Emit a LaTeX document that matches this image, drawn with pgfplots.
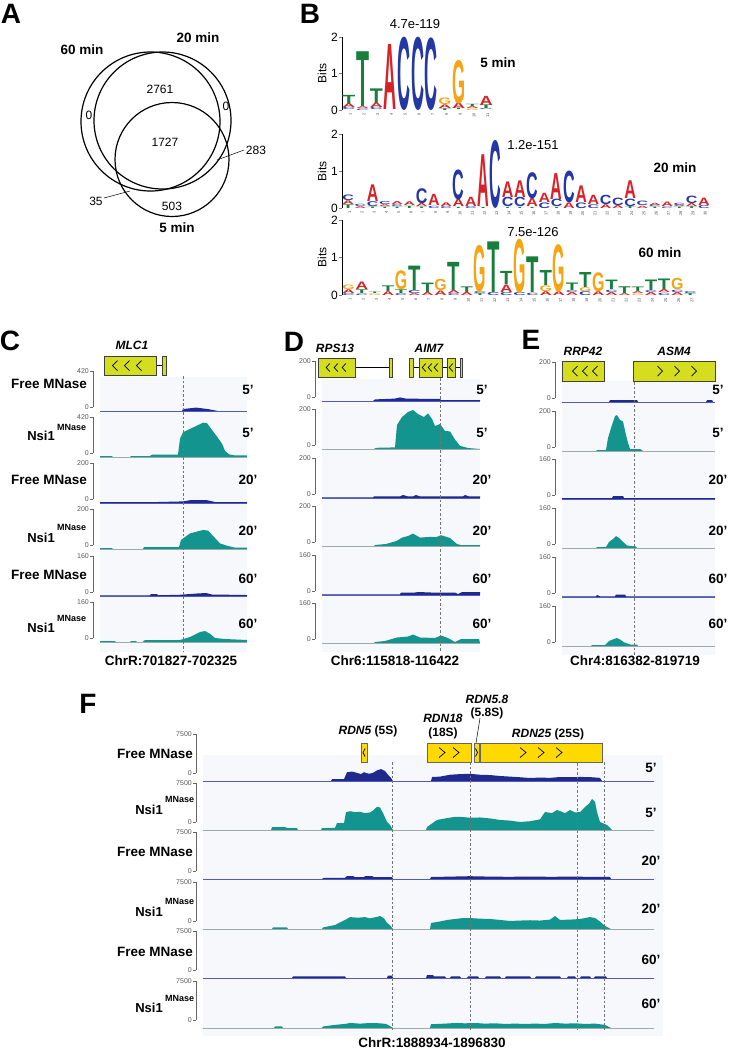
\documentclass[border=0pt]{standalone}
\usepackage{fontspec}
\setmainfont{Liberation Sans}
\usepackage{graphicx}
\usepackage{pgfplots}
\pgfplotsset{compat=1.18}

\definecolor{freeblue}{RGB}{32,42,140}
\definecolor{freeline}{RGB}{90,100,200}
\definecolor{nsiteal}{RGB}{20,148,142}
\definecolor{nsiline}{RGB}{175,175,175}
\definecolor{bgtrack}{RGB}{246,248,251}
\definecolor{geneC}{RGB}{212,222,30}
\definecolor{geneF}{RGB}{255,218,0}
\definecolor{logoA}{RGB}{215,35,40}
\definecolor{logoC}{RGB}{35,55,165}
\definecolor{logoG}{RGB}{245,165,20}
\definecolor{logoT}{RGB}{25,125,60}

\newcommand{\fs}[1]{\fontsize{#1}{#1}\selectfont}
\newlength{\bitpx}
\def\lwid{13pt}
\newcommand{\LL}[5]{\node[inner sep=0pt,outer sep=0pt,anchor=south,text=#5] at (axis cs:#1,#2) {\raisebox{0pt}[#3\bitpx][0pt]{\resizebox{\lwid}{#3\bitpx}{\bfseries #4}}};}
\newcommand{\LA}[3]{\LL{#1}{#2}{#3}{A}{logoA}}
\newcommand{\LC}[3]{\LL{#1}{#2}{#3}{C}{logoC}}
\newcommand{\LG}[3]{\LL{#1}{#2}{#3}{G}{logoG}}
\newcommand{\LT}[3]{\LL{#1}{#2}{#3}{T}{logoT}}
\newcommand{\chL}[4]{\draw[line width=0.7pt] (axis cs:#1,#2) ++(#3,#4) -- ++(-2*#3,-#4) -- ++(2*#3,-#4);}
\newcommand{\chR}[4]{\draw[line width=0.7pt] (axis cs:#1,#2) ++(-#3,#4) -- ++(2*#3,-#4) -- ++(-2*#3,-#4);}

\tikzset{
 gC/.style={fill=geneC, draw=black!75, line width=0.8pt},
 gF/.style={fill=geneF, draw=black!60, line width=0.8pt},
 dl/.style={draw=black!55, line width=0.7pt, dash pattern=on 2.5pt off 2pt},
}
\pgfplotsset{
 trk/.style={scale only axis, anchor=south west, height=40pt, ymin=0, clip=false,
   axis x line=none, axis y line*=left, axis y line shift=7pt,
   y axis line style={draw=black!60, line width=0.6pt, shorten <=4pt},
   ytick style={draw=black!60, line width=0.6pt},
   tick align=outside, major tick length=3pt,
   yticklabel style={font=\fs{7}, text=black!65, inner sep=1pt},
   xtick=\empty},
 pC/.style={xmin=100, xmax=247, width=147pt, at={(100pt,-#1pt)}},
 pD/.style={xmin=322, xmax=480, width=158pt, at={(322pt,-#1pt)}},
 pE/.style={xmin=562, xmax=715, width=153pt, at={(562pt,-#1pt)}},
 pF/.style={xmin=203, xmax=654, width=451pt, at={(203pt,-#1pt)}, height=47pt, y axis line style={shorten <=8pt}},
 mx/.style 2 args={ymax=#1, ytick={#2,#1}, yticklabels={0,#1}},
 free/.style={fill=freeblue, draw=none},
 nsi/.style={fill=nsiteal, draw=none},
 fbase/.style={draw=freeline, line width=1pt},
 nbase/.style={draw=nsiline, line width=0.8pt},
 logo/.style={scale only axis, anchor=south west, ymin=0, ymax=2, clip=false,
   axis y line*=left, axis x line*=bottom, x axis line style={draw=none},
   xtick style={draw=none}, ytick={0,1,2}, tick align=outside, major tick length=3pt,
   y axis line style={line width=0.6pt}, ytick style={line width=0.6pt},
   xticklabel style={rotate=90, anchor=east, font=\fs{4}, inner sep=0.3pt, yshift=-1.5pt, text=black!70},
   yticklabel style={font=\fs{12}, inner sep=1pt},
   /pgf/number format/assume math mode=true,
   ylabel={Bits}, ylabel style={font=\fs{12}}},
}

\begin{document}
\begin{tikzpicture}
\useasboundingbox (0pt,0pt) rectangle (728pt,-1049pt);
% backgrounds
\begin{scope}[x=1pt,y=-1pt]
\fill[bgtrack] (100,377) rectangle (247,652);
\fill[bgtrack] (322,379) rectangle (480,652);
\fill[bgtrack] (562,381) rectangle (715,655);
\fill[bgtrack] (203,755) rectangle (663,1036);
\end{scope}

% ===== Panel B: logos =====
\setlength{\bitpx}{36.5pt}\def\lwid{13pt}
\begin{axis}[logo, at={(342pt,-110pt)}, width=151pt, height=73pt, xmin=0.5, xmax=11.5, xtick={1,...,11}]
\LC{1}{0}{0.06}\LA{1}{0.06}{0.10}\LT{1}{0.16}{0.25}
\LC{2}{0}{0.04}\LA{2}{0.04}{0.05}\LT{2}{0.09}{1.5}
\LC{3}{0}{0.06}\LA{3}{0.06}{0.12}\LT{3}{0.18}{0.40}
\LA{4}{0}{1.78}
\LC{5}{0}{1.98}
\LC{6}{0}{1.98}
\LC{7}{0}{1.96}
\LT{8}{0}{0.05}\LA{8}{0.05}{0.10}\LG{8}{0.15}{0.18}
\LT{9}{0}{0.04}\LA{9}{0.04}{0.15}\LG{9}{0.19}{1.18}
\LG{10}{0}{0.04}\LA{10}{0.04}{0.05}\LT{10}{0.09}{0.06}
\LC{11}{0}{0.03}\LT{11}{0.03}{0.10}\LA{11}{0.13}{0.25}
\end{axis}

\setlength{\bitpx}{37pt}\def\lwid{11.6pt}
\begin{axis}[logo, at={(342pt,-208pt)}, width=368pt, height=74pt, xmin=0.5, xmax=30.5, xtick={1,...,30}]
\LT{1}{0}{0.1}\LA{1}{0.1}{0.1}\LC{1}{0.2}{0.15}
\LA{2}{0}{0.05}\LC{2}{0.05}{0.06}
\LT{3}{0}{0.04}\LC{3}{0.04}{0.13}\LA{3}{0.17}{0.45}
\LT{4}{0}{0.04}\LA{4}{0.04}{0.05}\LC{4}{0.09}{0.08}
\LT{5}{0}{0.04}\LC{5}{0.04}{0.05}\LA{5}{0.09}{0.08}
\LT{6}{0}{0.06}\LA{6}{0.06}{0.1}
\LT{7}{0}{0.04}\LA{7}{0.04}{0.08}\LC{7}{0.12}{0.4}
\LC{8}{0}{0.06}\LA{8}{0.06}{0.3}
\LC{9}{0}{0.05}\LA{9}{0.05}{0.1}
\LT{10}{0}{0.03}\LA{10}{0.03}{0.2}\LC{10}{0.23}{0.8}
\LC{11}{0}{0.05}\LA{11}{0.05}{0.25}
\LT{12}{0}{0.03}\LA{12}{0.03}{1.4}
\LC{13}{0}{1.81}
\LT{14}{0}{0.03}\LC{14}{0.03}{0.25}\LA{14}{0.28}{0.42}
\LT{15}{0}{0.03}\LC{15}{0.03}{0.25}\LA{15}{0.28}{0.45}
\LT{16}{0}{0.03}\LA{16}{0.03}{0.22}\LC{16}{0.25}{0.7}
\LC{17}{0}{0.15}\LA{17}{0.15}{0.25}
\LT{18}{0}{0.03}\LC{18}{0.03}{0.2}\LA{18}{0.23}{0.7}
\LA{19}{0}{0.15}\LC{19}{0.15}{0.85}
\LC{20}{0}{0.15}\LA{20}{0.15}{0.45}
\LC{21}{0}{0.1}\LA{21}{0.1}{0.25}
\LA{22}{0}{0.1}\LC{22}{0.1}{0.25}
\LA{23}{0}{0.08}\LC{23}{0.08}{0.2}
\LT{24}{0}{0.05}\LC{24}{0.05}{0.2}\LA{24}{0.25}{0.48}
\LA{25}{0}{0.06}\LC{25}{0.06}{0.12}
\LT{26}{0}{0.04}\LC{26}{0.04}{0.04}\LA{26}{0.08}{0.06}
\LC{27}{0}{0.04}\LA{27}{0.04}{0.12}
\LT{28}{0}{0.04}\LA{28}{0.04}{0.04}\LC{28}{0.08}{0.06}
\LT{29}{0}{0.05}\LA{29}{0.05}{0.08}\LC{29}{0.13}{0.2}
\LC{30}{0}{0.08}\LA{30}{0.08}{0.2}
\end{axis}

\setlength{\bitpx}{37.5pt}\def\lwid{12.4pt}
\begin{axis}[logo, at={(342pt,-295pt)}, width=355pt, height=75pt, xmin=0.5, xmax=27.5, xtick={1,...,27}]
\LC{1}{0}{0.05}\LA{1}{0.05}{0.1}\LG{1}{0.15}{0.12}
\LC{2}{0}{0.04}\LT{2}{0.04}{0.1}\LA{2}{0.14}{0.2}
\LG{3}{0}{0.04}\LT{3}{0.04}{0.04}
\LA{4}{0}{0.1}\LT{4}{0.1}{0.15}
\LC{5}{0}{0.05}\LT{5}{0.05}{0.1}\LG{5}{0.15}{0.5}
\LA{6}{0}{0.05}\LC{6}{0.05}{0.08}\LT{6}{0.13}{0.65}
\LA{7}{0}{0.08}\LT{7}{0.08}{0.25}
\LA{8}{0}{0.12}\LG{8}{0.12}{0.3}
\LC{9}{0}{0.05}\LA{9}{0.05}{0.08}\LT{9}{0.13}{0.75}
\LA{10}{0}{0.08}\LT{10}{0.08}{0.15}
\LT{11}{0}{0.05}\LC{11}{0.05}{0.05}\LG{11}{0.1}{1.23}
\LC{12}{0}{0.08}\LT{12}{0.08}{1.35}
\LC{13}{0}{0.08}\LA{13}{0.08}{0.2}\LT{13}{0.28}{0.35}
\LC{14}{0}{0.08}\LG{14}{0.08}{1.42}
\LC{15}{0}{0.06}\LT{15}{0.06}{0.95}
\LA{16}{0}{0.1}\LG{16}{0.1}{0.15}\LT{16}{0.25}{0.4}
\LA{17}{0}{0.1}\LG{17}{0.1}{1.25}
\LA{18}{0}{0.08}\LC{18}{0.08}{0.05}\LT{18}{0.13}{0.2}
\LC{19}{0}{0.1}\LG{19}{0.1}{0.1}\LT{19}{0.2}{0.4}
\LA{20}{0}{0.1}\LG{20}{0.1}{0.5}
\LA{21}{0}{0.08}\LC{21}{0.08}{0.06}\LT{21}{0.14}{0.25}
\LA{22}{0}{0.05}\LT{22}{0.05}{0.18}
\LG{23}{0}{0.04}\LA{23}{0.04}{0.05}\LT{23}{0.09}{0.12}
\LA{24}{0}{0.08}\LC{24}{0.08}{0.05}\LT{24}{0.13}{0.28}
\LC{25}{0}{0.06}\LA{25}{0.06}{0.08}\LT{25}{0.14}{0.28}
\LA{26}{0}{0.08}\LC{26}{0.08}{0.06}\LG{26}{0.14}{0.3}
\LT{27}{0}{0.05}\LC{27}{0.05}{0.05}
\end{axis}

% ===== Panel C tracks =====
\begin{axis}[trk, pC=411, mx={420}{42}]
\addplot[fbase] coordinates {(100,0)(247,0)};
\addplot[free] coordinates {(100,0)(182,0)(183,20)(196,36)(208,20)(218,0)(247,0)} \closedcycle;
\end{axis}
\begin{axis}[trk, pC=457, mx={420}{42}]
\addplot[nbase] coordinates {(100,0)(247,0)};
\addplot[nsi] coordinates {(100,10)(112,10)(113,0)(130,0)(131,10)(150,10)(152,26)(178,26)(180,190)(183,260)(190,295)(197,330)(203,360)(207,355)(212,285)(218,200)(222,140)(225,65)(229,28)(235,16)(247,16)} \closedcycle;
\end{axis}
\begin{axis}[trk, pC=503, mx={200}{20}]
\addplot[fbase] coordinates {(100,0)(247,0)};
\addplot[free] coordinates {(100,4)(150,4)(183,8)(190,14)(207,14)(215,5)(247,5)} \closedcycle;
\end{axis}
\begin{axis}[trk, pC=549, mx={200}{20}]
\addplot[nbase] coordinates {(100,0)(247,0)};
\addplot[nsi] coordinates {(100,5)(112,5)(113,0)(143,0)(144,10)(179,10)(181,45)(190,78)(203,95)(208,92)(213,66)(220,28)(228,15)(235,7)(247,7)} \closedcycle;
\end{axis}
\begin{axis}[trk, pC=596, mx={160}{16}]
\addplot[fbase] coordinates {(100,0)(247,0)};
\addplot[free] coordinates {(100,3)(150,3)(151,8)(157,8)(158,3)(180,5)(197,10)(206,12)(212,6)(247,4)} \closedcycle;
\end{axis}
\begin{axis}[trk, pC=642, mx={160}{16}]
\addplot[nbase] coordinates {(100,0)(247,0)};
\addplot[nsi] coordinates {(100,4)(115,4)(116,0)(130,0)(131,4)(136,4)(137,0)(143,0)(144,7)(180,8)(190,20)(200,40)(205,44)(210,33)(215,16)(225,12)(247,8)} \closedcycle;
\end{axis}

% ===== Panel D tracks =====
\begin{axis}[trk, pD=401, mx={200}{20}]
\addplot[fbase] coordinates {(322,0)(480,0)};
\addplot[free] coordinates {(322,0)(373,0)(375,8)(395,12)(400,18)(406,12)(440,10)(441,5)(480,5)} \closedcycle;
\end{axis}
\begin{axis}[trk, pD=449, mx={200}{20}]
\addplot[nbase] coordinates {(322,0)(480,0)};
\addplot[nsi] coordinates {(322,0)(374,0)(376,6)(395,8)(397,120)(402,160)(408,185)(413,195)(418,175)(424,160)(428,178)(432,150)(435,115)(440,125)(445,90)(450,88)(455,47)(460,16)(468,5)(480,0)} \closedcycle;
\end{axis}
\begin{axis}[trk, pD=498, mx={200}{20}]
\addplot[fbase] coordinates {(322,0)(480,0)};
\addplot[free] coordinates {(322,3)(373,3)(374,8)(400,8)(403,15)(408,8)(413,8)(416,15)(420,8)(463,8)(465,15)(469,8)(480,8)} \closedcycle;
\end{axis}
\begin{axis}[trk, pD=546, mx={200}{20}]
\addplot[nbase] coordinates {(322,0)(480,0)};
\addplot[nsi] coordinates {(322,0)(374,0)(375,5)(386,10)(397,26)(402,42)(408,50)(413,62)(420,42)(431,46)(436,44)(441,54)(450,40)(457,10)(461,5)(480,5)} \closedcycle;
\end{axis}
\begin{axis}[trk, pD=595, mx={160}{16}]
\addplot[fbase] coordinates {(322,0)(480,0)};
\addplot[free] coordinates {(322,3)(400,3)(401,10)(415,10)(418,12)(431,10)(441,10)(455,10)(458,4)(462,12)(480,12)} \closedcycle;
\end{axis}
\begin{axis}[trk, pD=643, mx={160}{16}]
\addplot[nbase] coordinates {(322,0)(480,0)};
\addplot[nsi] coordinates {(322,0)(374,0)(375,4)(385,8)(397,22)(408,26)(413,34)(420,22)(435,20)(441,30)(448,20)(455,4)(461,16)(479,16)(480,0)} \closedcycle;
\end{axis}

% ===== Panel E tracks =====
\begin{axis}[trk, pE=402, mx={200}{20}]
\addplot[fbase] coordinates {(562,0)(715,0)};
\addplot[free] coordinates {(562,0)(609,0)(610,10)(637,10)(638,0)(706,0)(707,10)(712,10)(713,0)(715,0)} \closedcycle;
\end{axis}
\begin{axis}[trk, pE=451, mx={200}{20}]
\addplot[nbase] coordinates {(562,0)(715,0)};
\addplot[nsi] coordinates {(562,0)(596,0)(597,5)(606,5)(608,65)(612,130)(615,175)(617,180)(620,155)(623,148)(626,80)(628,40)(630,10)(640,10)(643,0)(715,0)} \closedcycle;
\end{axis}
\begin{axis}[trk, pE=499, mx={160}{16}]
\addplot[fbase] coordinates {(562,0)(715,0)};
\addplot[free] coordinates {(562,4)(612,4)(613,12)(623,12)(624,4)(715,4)} \closedcycle;
\end{axis}
\begin{axis}[trk, pE=548, mx={160}{16}]
\addplot[nbase] coordinates {(562,0)(715,0)};
\addplot[nsi] coordinates {(562,0)(596,0)(597,4)(606,4)(609,24)(613,36)(616,48)(619,40)(622,28)(627,10)(636,6)(637,0)(715,0)} \closedcycle;
\end{axis}
\begin{axis}[trk, pE=597, mx={160}{16}]
\addplot[fbase] coordinates {(562,0)(715,0)};
\addplot[free] coordinates {(562,3)(596,3)(597,8)(600,3)(615,3)(616,10)(625,10)(626,3)(715,3)} \closedcycle;
\end{axis}
\begin{axis}[trk, pE=646, mx={160}{16}]
\addplot[nbase] coordinates {(562,0)(715,0)};
\addplot[nsi] coordinates {(562,0)(591,0)(592,4)(605,4)(609,20)(614,28)(617,32)(620,26)(624,15)(630,6)(637,6)(638,0)(715,0)} \closedcycle;
\end{axis}

% ===== Panel F tracks =====
\begin{axis}[trk, pF=781, mx={7500}{1277}]
\addplot[fbase] coordinates {(203,0)(654,0)};
\addplot[free] coordinates {(203,0)(331,0)(332,300)(344,300)(347,1400)(352,1500)(357,1300)(361,1100)(364,1400)(369,1150)(373,1300)(377,1700)(381,1900)(385,1600)(388,1000)(391,500)(393,0)(431,0)(432,640)(440,700)(450,1000)(460,1100)(470,1150)(480,1000)(490,950)(500,800)(510,700)(520,600)(530,480)(540,550)(550,500)(560,640)(570,600)(580,650)(590,620)(600,500)(602,0)(654,0)} \closedcycle;
\end{axis}
\begin{axis}[trk, pF=830, mx={7500}{1277}]
\addplot[nbase] coordinates {(203,0)(654,0)};
\addplot[nsi] coordinates {(203,0)(271,0)(272,480)(285,480)(287,300)(297,300)(298,0)(321,0)(322,300)(335,350)(337,1100)(344,1100)(346,2850)(350,3000)(355,2850)(360,2900)(365,2700)(370,2800)(373,3100)(377,3700)(380,3600)(383,2700)(387,1300)(390,800)(393,0)(426,0)(427,480)(437,1600)(447,1900)(455,2100)(463,2070)(470,1950)(480,2000)(490,1850)(500,1600)(510,1500)(520,1280)(530,1400)(540,1700)(545,2870)(552,2700)(557,3190)(562,2900)(565,2700)(570,3190)(575,2800)(580,2870)(585,3670)(589,4200)(592,4950)(595,4500)(597,2870)(600,1280)(607,800)(612,0)(654,0)} \closedcycle;
\end{axis}
\begin{axis}[trk, pF=879, mx={7500}{1277}]
\addplot[fbase] coordinates {(203,0)(654,0)};
\addplot[free] coordinates {(203,0)(322,0)(323,160)(345,200)(347,480)(353,480)(355,320)(364,320)(365,480)(372,480)(374,320)(392,320)(393,0)(430,0)(431,320)(450,380)(470,450)(490,380)(510,350)(530,400)(550,350)(570,380)(590,350)(610,320)(611,0)(654,0)} \closedcycle;
\end{axis}
\begin{axis}[trk, pF=929, mx={7500}{1277}]
\addplot[nbase] coordinates {(203,0)(654,0)};
\addplot[nsi] coordinates {(203,0)(272,0)(273,250)(287,250)(288,0)(322,0)(323,250)(335,640)(345,1440)(350,1900)(358,1800)(365,1900)(370,1700)(376,1900)(380,2070)(384,1700)(387,1000)(390,600)(393,0)(430,0)(431,960)(440,1200)(447,1440)(455,1600)(463,1750)(470,1750)(480,1650)(490,1600)(500,1450)(510,1280)(520,1350)(530,1400)(540,1350)(550,1500)(555,2070)(560,1450)(570,1500)(580,1600)(585,1750)(590,1900)(595,1750)(600,1200)(605,480)(611,0)(654,0)} \closedcycle;
\end{axis}
\begin{axis}[trk, pF=978, mx={7500}{1277}]
\addplot[fbase] coordinates {(203,0)(654,0)};
\addplot[free] coordinates {(203,0)(292,0)(293,250)(345,250)(346,0)(387,0)(388,400)(392,400)(393,0)(426,0)(427,480)(433,480)(434,250)(445,250)(446,0)(450,0)(451,250)(460,250)(461,0)(467,0)(468,250)(478,250)(479,0)(485,0)(486,250)(500,250)(501,0)(505,0)(506,250)(530,250)(531,0)(535,0)(536,250)(560,250)(561,0)(567,0)(568,250)(575,250)(576,0)(580,0)(581,250)(590,250)(591,0)(594,0)(595,250)(606,250)(607,0)(654,0)} \closedcycle;
\end{axis}
\begin{axis}[trk, pF=1028, mx={7500}{1277}]
\addplot[nbase] coordinates {(203,0)(654,0)};
\addplot[nsi] coordinates {(203,0)(274,0)(275,250)(282,250)(283,0)(322,0)(323,250)(335,500)(345,650)(350,800)(360,700)(370,800)(380,750)(386,650)(390,300)(393,0)(430,0)(431,600)(445,700)(455,800)(465,750)(475,800)(485,700)(495,750)(505,650)(515,700)(525,650)(535,700)(545,650)(555,800)(565,700)(575,750)(585,650)(595,700)(605,500)(611,0)(654,0)} \closedcycle;
\end{axis}

% ===== overlay: Venn, gene models, guide lines =====
\begin{axis}[scale only axis, hide axis, anchor=south west, at={(0pt,-1049pt)}, width=728pt, height=1049pt, xmin=0, xmax=728, ymin=0, ymax=1049, y dir=reverse, clip=false]
\draw[line width=1.2pt] (axis cs:150.5,121.5) circle[radius=69.5pt];
\draw[line width=1.2pt] (axis cs:162.5,120.5) circle[radius=68.5pt];
\draw[line width=1.2pt] (axis cs:172,159.5) circle[radius=57pt];
\draw[line width=0.5pt] (axis cs:217,160) -- (axis cs:244,150);
\draw[line width=0.5pt] (axis cs:104,198) -- (axis cs:130,191);
% C gene
\draw[line width=0.8pt] (axis cs:156,365.5) -- (axis cs:162,365.5);
\draw[gC] (axis cs:104,356) rectangle (axis cs:156,375);
\draw[gC] (axis cs:162,356) rectangle (axis cs:166,375);
\chL{115}{365.5}{2.5pt}{5pt}\chL{127}{365.5}{2.5pt}{5pt}\chL{139}{365.5}{2.5pt}{5pt}
% D genes
\draw[line width=0.8pt] (axis cs:355,367.5) -- (axis cs:389,367.5);
\draw[line width=0.8pt] (axis cs:413,367.5) -- (axis cs:460,367.5);
\draw[gC] (axis cs:318,358) rectangle (axis cs:355,377);
\draw[gC] (axis cs:389,358) rectangle (axis cs:392,377);
\draw[gC] (axis cs:409,358) rectangle (axis cs:413,377);
\draw[gC] (axis cs:419,358) rectangle (axis cs:442,377);
\draw[gC] (axis cs:447,358) rectangle (axis cs:455,377);
\draw[gC] (axis cs:460,358) rectangle (axis cs:462,377);
\chL{328}{367.5}{1.8pt}{4pt}\chL{336}{367.5}{1.8pt}{4pt}\chL{344}{367.5}{1.8pt}{4pt}
\chL{424}{367.5}{1.8pt}{4pt}\chL{430}{367.5}{1.8pt}{4pt}\chL{436}{367.5}{1.8pt}{4pt}
\chL{451}{367.5}{1.8pt}{4pt}
% E genes
\draw[gC] (axis cs:562,361) rectangle (axis cs:604,381);
\draw[gC] (axis cs:633,361) rectangle (axis cs:715,381);
\chL{575}{371}{2.5pt}{5pt}\chL{585}{371}{2.5pt}{5pt}\chL{595}{371}{2.5pt}{5pt}
\chR{660}{371}{2.5pt}{5pt}\chR{677}{371}{2.5pt}{5pt}\chR{694}{371}{2.5pt}{5pt}
% F genes
\draw[gF] (axis cs:361,743) rectangle (axis cs:367,762);
\draw[gF] (axis cs:427,743) rectangle (axis cs:471,762);
\draw[gF] (axis cs:474,743) rectangle (axis cs:479,762);
\draw[gF] (axis cs:480,743) rectangle (axis cs:602,762);
\chL{364}{752.5}{1pt}{4pt}
\chR{442}{752.5}{3pt}{5pt}\chR{456}{752.5}{3pt}{5pt}
\chR{476.5}{752.5}{1pt}{4pt}
\chR{523}{752.5}{3pt}{5pt}\chR{541}{752.5}{3pt}{5pt}\chR{559}{752.5}{3pt}{5pt}
\draw[line width=0.5pt] (axis cs:480,718) -- (axis cs:476,743);
% dashed guides
\draw[dl] (axis cs:183,376) -- (axis cs:183,652);
\draw[dl] (axis cs:440,378) -- (axis cs:440,652);
\draw[dl] (axis cs:634,382) -- (axis cs:634,655);
\draw[dl] (axis cs:392,762) -- (axis cs:392,1030);
\draw[dl] (axis cs:470,762) -- (axis cs:470,1030);
\draw[dl] (axis cs:577,763) -- (axis cs:577,1030);
\draw[dl] (axis cs:604,762) -- (axis cs:604,1030);
\end{axis}

% ===== text =====
\begin{scope}[x=1pt,y=-1pt]
\node[font=\fs{28}\bfseries] at (11,14) {A};
\node[font=\fs{28}\bfseries] at (310,14) {B};
\node[font=\fs{28}\bfseries] at (10,341) {C};
\node[font=\fs{28}\bfseries] at (294,342) {D};
\node[font=\fs{28}\bfseries] at (531,340) {E};
\node[font=\fs{28}\bfseries] at (88,704) {F};
% Venn
\node[font=\fs{13.5}\bfseries] at (82,50) {60 min};
\node[font=\fs{13.5}\bfseries] at (198,38) {20 min};
\node[font=\fs{13.5}\bfseries] at (177,228) {5 min};
\node[font=\fs{12}] at (160,89) {2761};
\node[font=\fs{12}] at (89,115) {0};
\node[font=\fs{12}] at (226,106) {0};
\node[font=\fs{12}] at (165,142) {1727};
\node[font=\fs{12}] at (256,150) {283};
\node[font=\fs{12}] at (96,201) {35};
\node[font=\fs{12}] at (172,206) {503};
% logos
\node[font=\fs{13}] at (415,24) {4.7e-119};
\node[font=\fs{13.5}\bfseries] at (498,63) {5 min};
\node[font=\fs{13}] at (533,145) {1.2e-151};
\node[font=\fs{13.5}\bfseries] at (675,168) {20 min};
\node[font=\fs{13}] at (533,232) {7.5e-126};
\node[font=\fs{13.5}\bfseries] at (660,253) {60 min};
% gene names
\node[font=\fs{12}\bfseries\itshape] at (132,345) {MLC1};
\node[font=\fs{12}\bfseries\itshape] at (335,348) {RPS13};
\node[font=\fs{12}\bfseries\itshape] at (429,348) {AIM7};
\node[font=\fs{12}\bfseries\itshape] at (583,351) {RRP42};
\node[font=\fs{12}\bfseries\itshape] at (674,351) {ASM4};
\node[font=\fs{12}\bfseries] at (368,731) {\textit{RDN5} (5S)};
\node[font=\fs{12}\bfseries\itshape] at (443,718) {RDN18};
\node[font=\fs{12}\bfseries] at (443,733) {(18S)};
\node[font=\fs{12}\bfseries\itshape] at (487,699) {RDN5.8};
\node[font=\fs{12}\bfseries] at (487,713) {(5.8S)};
\node[font=\fs{12}\bfseries] at (548,734) {\textit{RDN25} (25S)};
% C track names
\node[font=\fs{13.5}\bfseries, anchor=east, inner sep=0pt] at (87,384) {Free MNase};
\node[font=\fs{13}\bfseries, anchor=east, inner sep=0pt] at (55,436) {Nsi1};
\node[font=\fs{9}\bfseries, anchor=west, inner sep=0pt] at (57,427) {MNase};
\node[font=\fs{13.5}\bfseries, anchor=east, inner sep=0pt] at (87,480) {Free MNase};
\node[font=\fs{13}\bfseries, anchor=east, inner sep=0pt] at (55,538) {Nsi1};
\node[font=\fs{9}\bfseries, anchor=west, inner sep=0pt] at (57,527) {MNase};
\node[font=\fs{13.5}\bfseries, anchor=east, inner sep=0pt] at (87,575) {Free MNase};
\node[font=\fs{13}\bfseries, anchor=east, inner sep=0pt] at (55,628) {Nsi1};
\node[font=\fs{9}\bfseries, anchor=west, inner sep=0pt] at (57,618) {MNase};
% F track names
\node[font=\fs{13.5}\bfseries, anchor=east, inner sep=0pt] at (193,754) {Free MNase};
\node[font=\fs{13}\bfseries, anchor=east, inner sep=0pt] at (163,810) {Nsi1};
\node[font=\fs{9}\bfseries, anchor=west, inner sep=0pt] at (165,799) {MNase};
\node[font=\fs{13.5}\bfseries, anchor=east, inner sep=0pt] at (193,852) {Free MNase};
\node[font=\fs{13}\bfseries, anchor=east, inner sep=0pt] at (163,912) {Nsi1};
\node[font=\fs{9}\bfseries, anchor=west, inner sep=0pt] at (165,901) {MNase};
\node[font=\fs{13.5}\bfseries, anchor=east, inner sep=0pt] at (193,952) {Free MNase};
\node[font=\fs{13}\bfseries, anchor=east, inner sep=0pt] at (163,1008) {Nsi1};
\node[font=\fs{9}\bfseries, anchor=west, inner sep=0pt] at (165,998) {MNase};
% time labels C D E
\foreach \xx in {248,482,718}{
\node[font=\fs{13.5}\bfseries] at (\xx,390) {5’};
\node[font=\fs{13.5}\bfseries] at (\xx,433) {5’};
\node[font=\fs{13.5}\bfseries] at (\xx,480) {20’};
\node[font=\fs{13.5}\bfseries] at (\xx,531) {20’};
\node[font=\fs{13.5}\bfseries] at (\xx,579) {60’};
\node[font=\fs{13.5}\bfseries] at (\xx,624) {60’};
}
% time labels F
\node[font=\fs{13.5}\bfseries] at (651,768) {5’};
\node[font=\fs{13.5}\bfseries] at (651,813) {5’};
\node[font=\fs{13.5}\bfseries] at (651,861) {20’};
\node[font=\fs{13.5}\bfseries] at (651,909) {20’};
\node[font=\fs{13.5}\bfseries] at (651,960) {60’};
\node[font=\fs{13.5}\bfseries] at (651,1004) {60’};
% coordinates
\node[font=\fs{13.5}\bfseries] at (171,661) {ChrR:701827-702325};
\node[font=\fs{13.5}\bfseries] at (395,661) {Chr6:115818-116422};
\node[font=\fs{13.5}\bfseries] at (635,661) {Chr4:816382-819719};
\node[font=\fs{13.5}\bfseries] at (432,1043) {ChrR:1888934-1896830};
\end{scope}
\end{tikzpicture}
\end{document}
